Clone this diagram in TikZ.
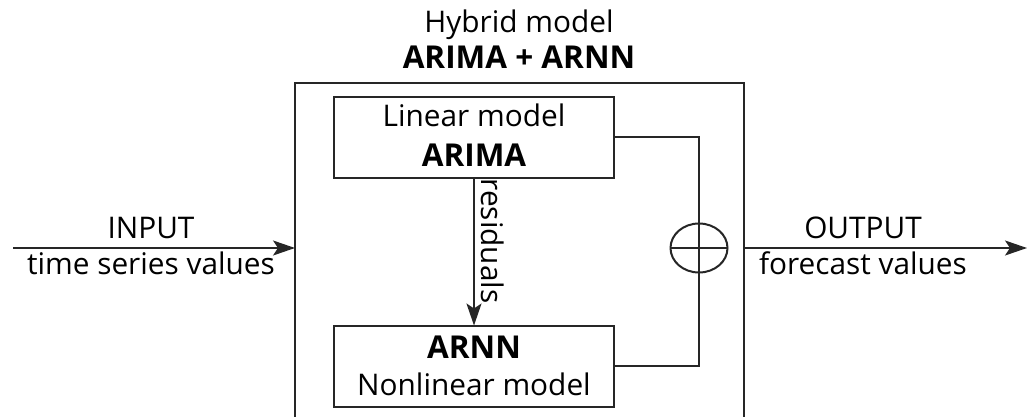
\documentclass[tikz,border=0pt]{standalone}
\usepackage{fontspec}
\setmainfont{Open Sans}
\usetikzlibrary{arrows.meta,shapes.geometric}
\begin{document}
\begin{tikzpicture}[x=1pt,y=-1pt,
  every node/.style={inner sep=0pt,outer sep=0pt,font=\fontsize{29.8}{34}\selectfont},
  bf/.style={font=\fontsize{31.5}{36}\selectfont\bfseries},
  wire/.style={line width=2pt,draw=black!85},
  boxnode/.style={draw=black!85,line width=2pt,minimum width=280pt,minimum height=81pt},
  arr/.style={wire,-{Stealth[length=22pt,width=15pt,inset=5pt]}},
  lbl/.style={anchor=base}]
\useasboundingbox (0,0) rectangle (1036,417);
% outer hybrid box (bottom edge lies below the picture)
\coordinate (obl) at (295,420);
\coordinate (otl) at (295,83);
\coordinate (otr) at (744,83);
\coordinate (obr) at (744,420);
\draw[wire] (obl) -- (otl) -- (otr) -- (obr);
\node[lbl] (t1) at (519,33) {Hybrid model};
\node[lbl,bf] (t2) at (519,69) {ARIMA + ARNN};
% inner boxes
\node[boxnode] (lin) at (474,137.5) {};
\node[lbl] (lin1) at (474,127) {Linear model};
\node[lbl,bf] (lin2) at (474,166) {ARIMA};
\node[boxnode] (arnn) at (474,366) {};
\node[lbl,bf] (arnn1) at (474,358) {ARNN};
\node[lbl] (arnn2) at (474,395) {Nonlinear model};
% residuals
\draw[arr] (lin.south) -- (arnn.north);
\node[rotate=-90] (res) at (493,241) {residuals};
% adder
\node[draw=black!85,line width=2pt,ellipse,minimum width=57pt,minimum height=49pt] (plus) at (699,248) {};
\draw[wire] (plus.west) -- (plus.east);
\draw[wire] (lin.east) -| (plus.center);
\draw[wire] (arnn.east) -| (plus.center);
% input / output
\coordinate (inS) at (13,248);
\coordinate (inE) at (295,248);
\draw[arr] (inS) -- (inE);
\node[lbl] (in1) at (151,238) {INPUT};
\node[lbl] (in2) at (151,274) {time series values};
\coordinate (outS) at (744,248);
\coordinate (outE) at (1027,248);
\draw[arr] (outS) -- (outE);
\node[lbl] (out1) at (863,238) {OUTPUT};
\node[lbl] (out2) at (863,274) {forecast values};
\end{tikzpicture}
\end{document}
